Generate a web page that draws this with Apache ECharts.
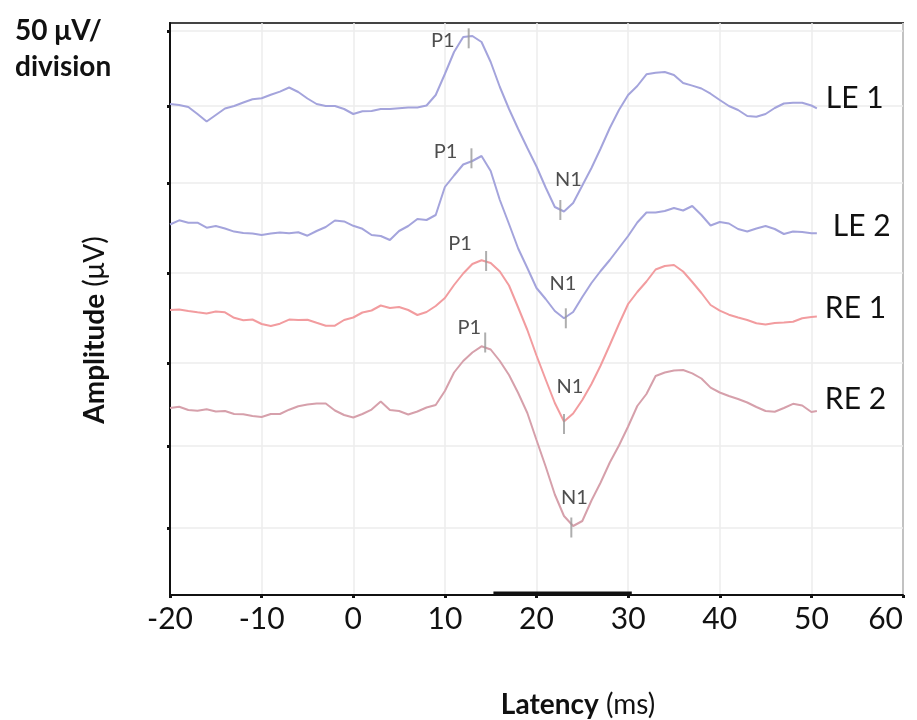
<!DOCTYPE html>
<html>
<head>
<meta charset="utf-8">
<script src="https://cdn.jsdelivr.net/npm/echarts@6/dist/echarts.min.js"></script>
<style>
html,body{margin:0;padding:0;background:#fff;}
#chart{width:917px;height:720px;}
</style>
</head>
<body>
<div id="chart"></div>
<script>
// Latency (ms) sample points
const latency = [-20,-19,-18,-17,-16,-15,-14,-13,-12,-11,
  -10,-9,-8,-7,-6,-5,-4,-3,-2,-1,
  0,1,2,3,4,5,6,7,8,9,
  10,11,12,13,14,15,16,17,18,19,
  20,21,22,23,24,25,26,27,28,29,
  30,31,32,33,34,35,36,37,38,39,
  40,41,42,43,44,45,46,47,48,49,
  50,50.6];

// Traces (vertically stacked, amplitude units above the baseline)
const le1 = [491,490,488,481,473.5,480,486.5,489,492.5,495.7,
  496.7,500.3,503.4,507.5,503,496.5,491,489,489,486,
  481,483.7,484,486,486,486.8,487.4,487.5,489.5,500,
  521,543,558,559,553,533,508,486,466,447,
  428.5,407.5,388,383.5,392,409.5,427,446.5,467,485,
  500,509,520.7,522.2,523,520,512,509.4,506.5,501.3,
  495,489,485,479,478.3,481,487,491.5,492.3,492.3,
  489.5,486.7];
const le2 = [370.5,374.7,372.2,372.3,367.3,369,366.5,363.4,362,361.5,
  360,361.4,362.5,361.8,362.7,359.3,364,368,374.5,373.6,
  369.2,366.2,360,359,355,364,369,376,375,380,
  408,419.5,430.5,434,439,424,395,371,346.5,327,
  307,296,284,276.7,283,298,312,324,335,347,
  359,372.5,382.5,382.5,384,387,384.5,389,380,369.5,
  373,371.5,366,363.5,366.5,369,366,361,363.5,363,
  361.7,361.7];
const re1 = [285,285.6,284,282.7,281.5,283.5,282.7,277.2,274.7,275.5,
  271,269,271.3,275.4,275,275.3,272.2,269.3,269.3,275,
  277.5,282.5,284.5,289.5,287,288,285,280,283,289,
  297,310,321.5,331,334.7,332,323.5,309.5,287.5,265,
  239.5,215.5,192,173.5,181.5,195,211,229.5,250,271,
  291,303,313.5,325.5,329,330,323.5,313,302,290,
  284.3,280.3,277.5,275,271.8,270.5,272,272.6,273.3,276.8,
  278,278.5];
const re2 = [187,188.2,185,184.3,185.7,183.5,184,181,180.7,179,
  178,181,181,185.3,188.7,190.4,191.5,191.5,184.5,180,
  177.5,181,185.4,193.5,185,184,180.5,183.5,187.5,190,
  204,222.5,234,242.5,248.7,245.5,234,220,202,182,
  155,128.5,100.5,79,69,74,94.5,112.5,132.5,149.5,
  168.5,189,201,219,222.5,224.5,225,221.6,216.5,207.4,
  202.5,199,196,192.5,188,184,183.3,187,191.2,189.5,
  183,184];

const seriesNames = ['LE 1','LE 2','RE 1','RE 2'];

// Peak markers
const peakNames = ['P1','N1','P1','N1','P1','N1','P1','N1'];
const peakLatency = [12.6,22.6,12.9,23.2,14.5,23.0,14.4,23.8];
const peakAmplitude = [556.7,385,436.7,276.7,334,171,252.5,67.5];

// Stimulus bar on the time axis
const stimLatency = [15.3,30.4];
const stimAmplitude = [1.5,1.5];

// Axis ticks
const xTickLabels = ['-20','-10','0','10','20','30','40','50','60'];
const yTickValues = [67,149,232,322,412,489,564];

// ---- styles (not data) ----
const FONT = 'Lato';
const colors = ['#a4a4dc','#a4a4dc','#f29c9f','#d6a0ab'];
const endOffsets = [[1,-10],[8,-7],[0,-8],[0,-12]];
const peakLabelOffsets = [[-26,2],[8,-30],[-26,-7],[-3,-35],[-26,-17],[6,-37],[-16,-15],[3,-30]];

const traces = [le1, le2, re1, re2];
const series = traces.map((arr, i) => ({
  name: seriesNames[i],
  type: 'line',
  data: latency.map((t, k) => [t, arr[k]]),
  showSymbol: false,
  symbol: 'none',
  lineStyle: { color: colors[i], width: 2 },
  z: 3,
  endLabel: {
    show: true,
    formatter: seriesNames[i],
    fontFamily: FONT,
    fontSize: 30,
    color: '#111',
    offset: endOffsets[i]
  }
}));

series.push({
  name: 'peaks',
  type: 'scatter',
  symbol: 'rect',
  symbolSize: [2, 20],
  itemStyle: { color: '#9a9a9a' },
  z: 4,
  data: peakNames.map((n, k) => ({
    value: [peakLatency[k], peakAmplitude[k]],
    label: {
      show: true,
      formatter: n,
      position: 'inside',
      offset: peakLabelOffsets[k],
      fontFamily: FONT,
      fontSize: 20,
      color: '#222'
    }
  }))
});

series.push({
  name: 'stimulus',
  type: 'line',
  data: stimLatency.map((t, k) => [t, stimAmplitude[k]]),
  symbol: 'none',
  lineStyle: { color: '#111', width: 4 },
  z: 5
});

const chart = echarts.init(document.getElementById('chart'), null, { renderer: 'canvas' });
chart.setOption({
  animation: false,
  backgroundColor: '#fff',
  title: {
    text: '50 μV/\ndivision',
    left: 10, top: 8,
    textStyle: { fontFamily: FONT, fontSize: 28, fontWeight: 'bold', lineHeight: 36, color: '#111' }
  },
  grid: { left: 170, right: 14, top: 23, bottom: 125, show: true, borderColor: '#444', borderWidth: 2 },
  xAxis: {
    type: 'value', min: -20, max: 60, interval: 10,
    axisLine: { onZero: false, lineStyle: { color: '#111', width: 2 } },
    axisTick: { length: 3, lineStyle: { color: '#111', width: 3 } },
    axisLabel: {
      fontFamily: FONT, fontSize: 30, color: '#111', margin: 9,
      alignMaxLabel: 'right',
      formatter: (v) => xTickLabels[Math.round((v + 20) / 10)]
    },
    splitLine: { show: true, lineStyle: { color: '#ececec', width: 1.5 } }
  },
  yAxis: {
    type: 'value', min: 0, max: 572, interval: 34.73,
    axisLine: { show: true, onZero: false, lineStyle: { color: '#111', width: 2 } },
    axisTick: { show: true, length: 3, customValues: yTickValues, lineStyle: { color: '#111', width: 3 } },
    axisLabel: { show: false },
    splitLine: { show: true, lineStyle: { color: '#ececec', width: 1.5 } }
  },
  graphic: [
    {
      type: 'text', x: 95, y: 330, rotation: Math.PI / 2,
      style: {
        text: '{b|Amplitude} {n|(μV)}',
        align: 'center', verticalAlign: 'middle',
        fontFamily: FONT, fontSize: 28, fill: '#111',
        rich: {
          b: { fontFamily: FONT, fontSize: 28, fontWeight: 'bold', fill: '#111' },
          n: { fontFamily: FONT, fontSize: 28, fill: '#111' }
        }
      }
    },
    {
      type: 'text', x: 578, y: 705,
      style: {
        text: '{b|Latency} {n|(ms)}',
        align: 'center', verticalAlign: 'middle',
        fontFamily: FONT, fontSize: 28, fill: '#111',
        rich: {
          b: { fontFamily: FONT, fontSize: 28, fontWeight: 'bold', fill: '#111' },
          n: { fontFamily: FONT, fontSize: 28, fill: '#111' }
        }
      }
    }
  ],
  series: series
});
</script>
</body>
</html>
